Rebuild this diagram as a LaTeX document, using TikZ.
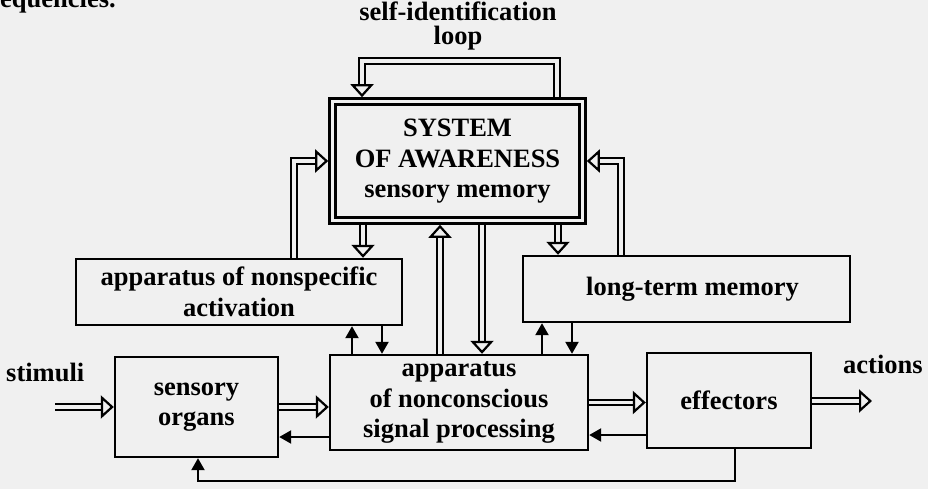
\documentclass[tikz,border=0pt]{standalone}
\usepackage{fontspec}
\setmainfont{Liberation Serif}
\usetikzlibrary{arrows.meta,calc}
\definecolor{bgc}{RGB}{240,240,240}
\begin{document}
\begin{tikzpicture}[x=1pt,y=-1pt,
  every node/.style={font=\fontsize{26.5}{30.5}\selectfont\bfseries, align=center, inner sep=0pt},
  blk/.style={draw, line width=2.4pt},
  sysbox/.style={draw, double=bgc, double distance=3.6pt, line width=2.5pt, outer sep=4.3pt},
  dbl/.style={double=bgc, double distance=3.4pt, line width=2.2pt,
    -{Triangle[fill=bgc, length=13pt, width=23pt, line width'=2.2pt]}},
  sgl/.style={line width=2.3pt, -{Triangle[length=12pt, width=13pt]}},
  lbl/.style={anchor=base west}
]
\useasboundingbox (0,0) rectangle (928,489);
\fill[bgc] (0,0) rectangle (928,489);

\node[lbl] (frag) at (0,8) {equencies.};

% nodes
\node[anchor=base] (title) at (458,21) {self-identification};
\node[anchor=base] (title2) at (458,44.5) {loop};
\node[sysbox, minimum width=250pt, minimum height=119pt] (sys) at (457.5,161)
  {\raisebox{-2pt}{\begin{tabular}{@{}c@{}}SYSTEM\\OF AWARENESS\\sensory memory\end{tabular}}};
\node[blk, minimum width=326pt, minimum height=66pt] (act) at (239,292)
  {apparatus of nonspecific\\activation};
\node[blk, minimum width=327pt, minimum height=66pt] (ltm) at (686.5,289)
  {\hspace*{12pt}long-term memory};
\node[blk, minimum width=163pt, minimum height=100pt] (so) at (196.5,407)
  {sensory\\organs};
\node[blk, minimum width=258pt, minimum height=95pt] (nc) at (459,402.5)
  {apparatus\\of nonconscious\\signal processing};
\node[blk, minimum width=164pt, minimum height=95pt] (eff) at (729,400.5)
  {effectors};
\node[lbl] (stim) at (6,381) {stimuli};
\node[lbl] (act2) at (843,373) {actions};

\coordinate (sin) at (55,407);
\coordinate (aout) at (872,401);
\coordinate (lt) at (458,61);
\coordinate (fb) at (460,481);

% self-identification loop
\draw[dbl] ([xshift=99.5pt]sys.north) -- ([xshift=99.5pt]sys.north |- lt)
  -- ([xshift=-95.5pt]sys.north |- lt) -- ([xshift=-95.5pt]sys.north);

% activation -> system
\draw[dbl] ([xshift=55pt]act.north) |- (sys.west);
% ltm -> system
\draw[dbl] ([xshift=-65.5pt]ltm.north) |- (sys.east);
% system -> activation
\draw[dbl] ([xshift=-94.5pt]sys.south) -- ([xshift=-94.5pt]sys.south |- act.north);
% nonconscious -> system
\draw[dbl] ([xshift=-17.5pt]sys.south |- nc.north) -- ([xshift=-17.5pt]sys.south);
% system -> nonconscious
\draw[dbl] ([xshift=24.5pt]sys.south) -- ([xshift=24.5pt]sys.south |- nc.north);
% system -> ltm
\draw[dbl] ([xshift=100.5pt]sys.south) -- ([xshift=100.5pt]sys.south |- ltm.north);

% activation <-> nonconscious
\draw[sgl] ([xshift=113pt]act.south |- nc.north) -- ([xshift=113pt]act.south);
\draw[sgl] ([xshift=143pt]act.south) -- ([xshift=143pt]act.south |- nc.north);
% ltm <-> nonconscious
\draw[sgl] ([xshift=-144.5pt]ltm.south |- nc.north) -- ([xshift=-144.5pt]ltm.south);
\draw[sgl] ([xshift=-114.5pt]ltm.south) -- ([xshift=-114.5pt]ltm.south |- nc.north);

% bottom row
\draw[dbl] (sin) -- (sin -| so.west);
\draw[dbl] (so.east) -- (so.east -| nc.west);
\draw[sgl] ([yshift=-30pt]so.east -| nc.west) -- ([yshift=-30pt]so.east);
\draw[dbl] (nc.east) -- (nc.east -| eff.west);
\draw[sgl] ([yshift=-34.5pt]eff.west) -- ([yshift=-34.5pt]eff.west -| nc.east);
\draw[dbl] (eff.east |- aout) -- (aout);
\draw[sgl]
  ([xshift=6pt]eff.south) -- ([xshift=6pt]eff.south |- fb)
  -- ([xshift=1.5pt]so.south |- fb) -- ([xshift=1.5pt]so.south);
\end{tikzpicture}
\end{document}
